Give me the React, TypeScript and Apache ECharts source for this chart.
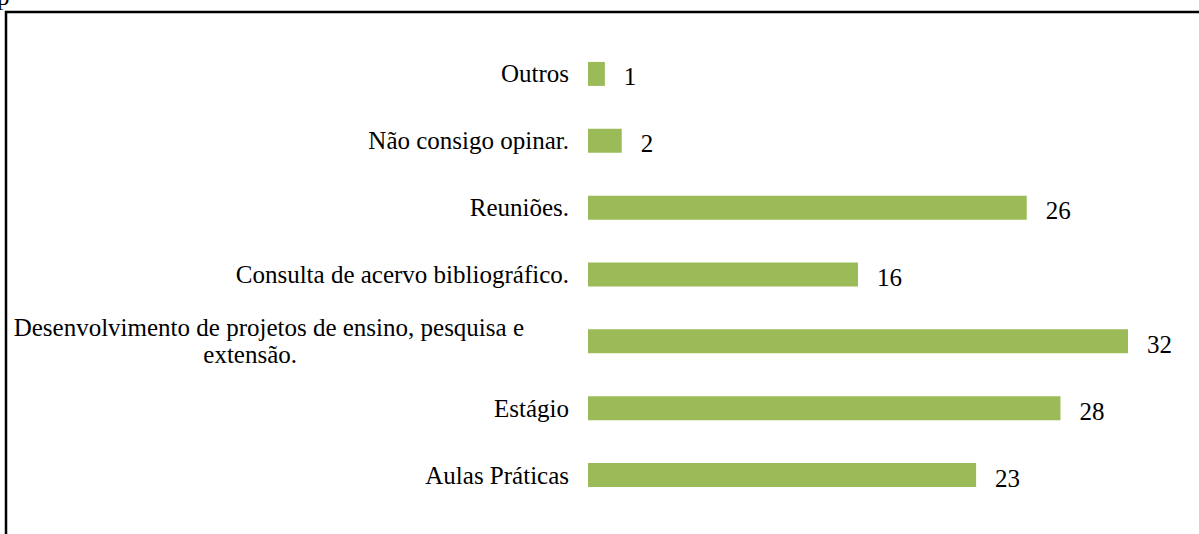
import React, { useEffect, useRef } from "react";
import * as echarts from "echarts";

const categories = [
  "Aulas Práticas",
  "Estágio",
  "Desenvolvimento de projetos de ensino, pesquisa e extensão.",
  "Consulta de acervo bibliográfico.",
  "Reuniões.",
  "Não consigo opinar.",
  "Outros",
];
const values = [23, 28, 32, 16, 26, 2, 1];

const FONT = "'Liberation Serif', 'Times New Roman', Times, serif";

export default function App() {
  const ref = useRef<HTMLDivElement>(null);
  useEffect(() => {
    if (!ref.current) return;
    const chart = echarts.init(ref.current, undefined, { renderer: "svg" });
    chart.setOption({
      animation: false,
      backgroundColor: "#ffffff",
      textStyle: { fontFamily: FONT },
      grid: { left: 588, right: 20.4, top: 40.5, bottom: 25.5, containLabel: false },
      xAxis: {
        type: "value",
        min: 0,
        max: 35,
        show: false,
        splitLine: { show: false },
      },
      yAxis: {
        type: "category",
        data: categories,
        axisLine: { show: false },
        axisTick: { show: false },
        axisLabel: {
          margin: 19,
          color: "#000000",
          fontFamily: FONT,
          fontSize: 25,
          formatter: (v: string) => {
            if (v.startsWith("Desenvolvimento")) {
              return "{a|Desenvolvimento de projetos de ensino, pesquisa e}\n{b|extensão.}";
            }
            return v;
          },
          rich: {
            a: {
              fontFamily: FONT,
              fontSize: 25,
              color: "#000000",
              padding: [0, 45, 0, 0],
              lineHeight: 27,
            },
            b: {
              fontFamily: FONT,
              fontSize: 25,
              color: "#000000",
              padding: [0, 272, 0, 0],
              lineHeight: 27,
            },
          },
        },
      },
      series: [
        {
          type: "bar",
          data: values,
          barWidth: 24,
          itemStyle: { color: "#9BBB59" },
          label: {
            show: true,
            position: "right",
            distance: 19,
            color: "#000000",
            fontFamily: FONT,
            fontSize: 25,
            offset: [0, 3],
          },
        },
      ],
      graphic: [
        {
          type: "rect",
          shape: { x: 6, y: 12, width: 1300, height: 700 },
          style: { fill: "none", stroke: "#000000", lineWidth: 2.5 },
          silent: true,
        },
        {
          type: "text",
          x: -3,
          y: -16,
          style: { text: "p", fontFamily: FONT, fontSize: 25, fill: "#000000" },
          silent: true,
        },
      ],
    });
    return () => chart.dispose();
  }, []);
  return (
    <div
      ref={ref}
      style={{ position: "absolute", left: 0, top: 0, width: 1199, height: 534 }}
    />
  );
}
